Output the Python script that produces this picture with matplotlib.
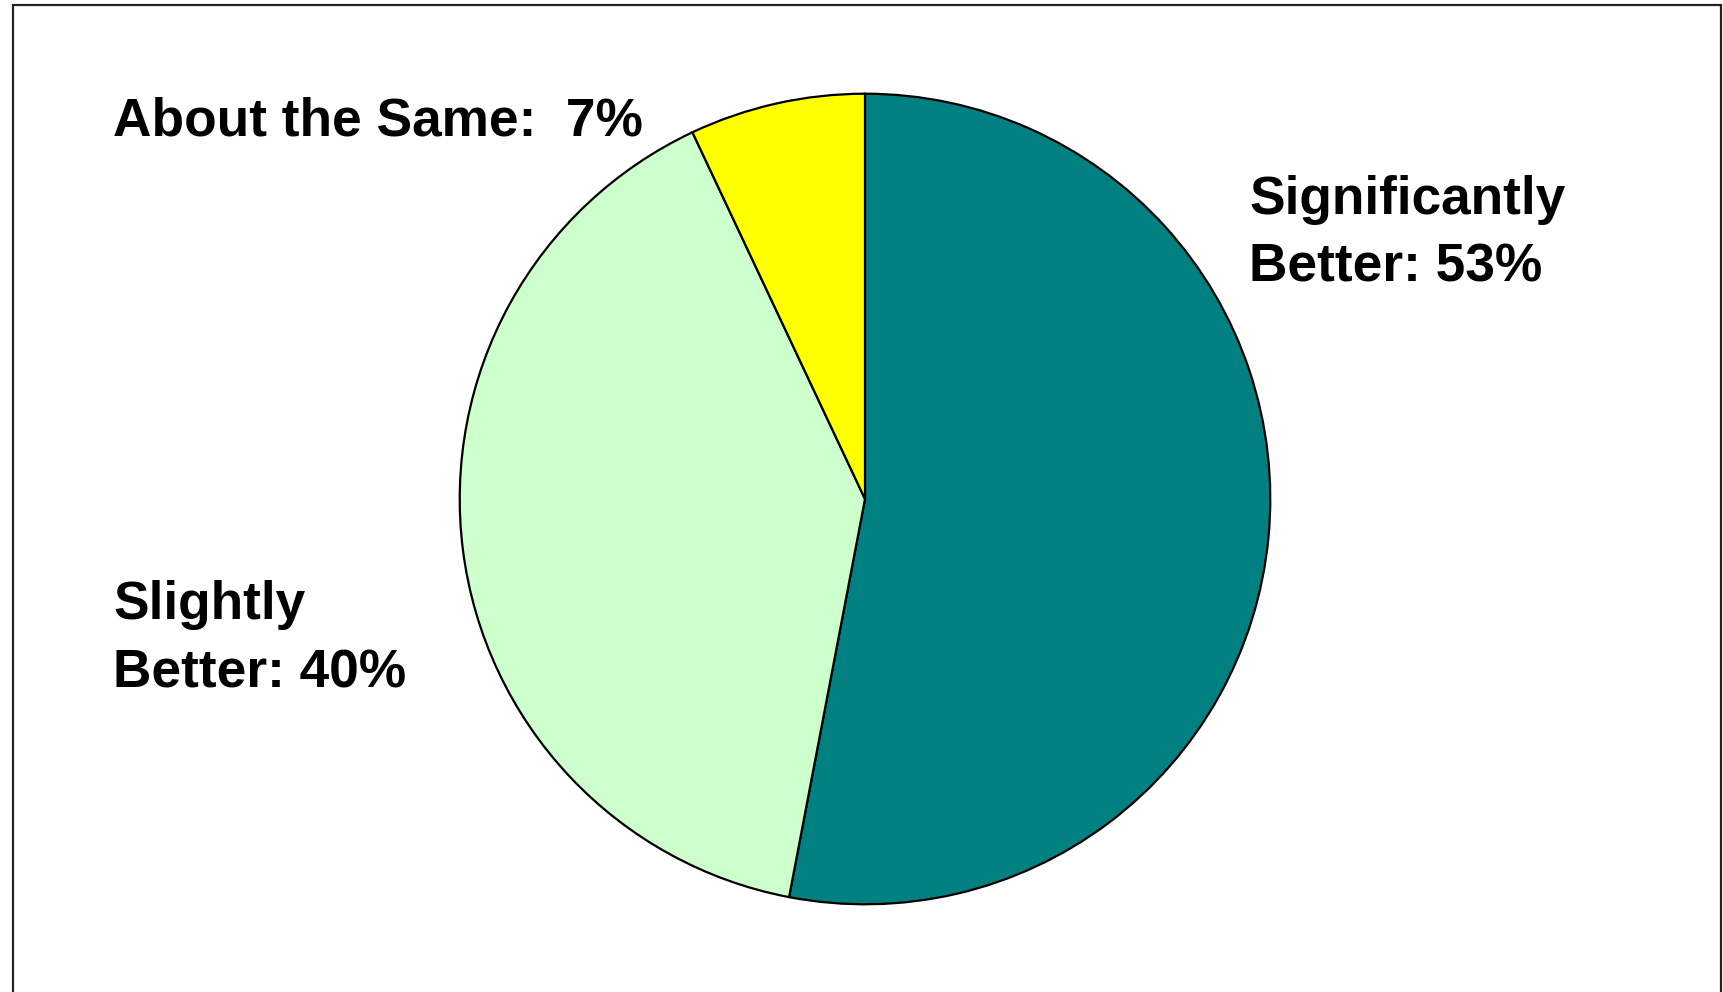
import matplotlib.pyplot as plt
from matplotlib.patches import Rectangle

# data
categories = ["Significantly Better", "Slightly Better", "About the Same"]
shares = [53, 40, 7]
slice_colors = ["#008080", "#CCFFCC", "#FFFF00"]
label_texts = ["Significantly\nBetter: 53%", "Slightly\nBetter: 40%", "About the Same:  7%"]

W, H = 1723, 992
fig = plt.figure(figsize=(W / 100, H / 100), dpi=100)
fig.patch.set_facecolor("white")

# pie area in pixels: centre (865, 499), radius ~406
cx, cy, r = 865, 499, 406.5
ax = fig.add_axes([(cx - r) / W, (H - cy - r) / H, 2 * r / W, 2 * r / H])
ax.pie(shares, colors=slice_colors, startangle=90, counterclock=False,
       wedgeprops=dict(edgecolor="black", linewidth=1.6))
ax.set_xlim(-1.003, 1.003)
ax.set_ylim(-1.003, 1.003)
ax.set_aspect("equal")
ax.axis("off")

# labels (pixel positions of left edge / last-line baseline)
label_pos = [(1249, 282), (113, 687), (113, 136)]
for txt, (px, py) in zip(label_texts, label_pos):
    fig.text(px / W, 1 - py / H, txt, fontsize=38.3, fontweight="bold",
             family="Liberation Sans", ha="left", va="baseline",
             linespacing=1.46, color="black")

# outer frame, open at the bottom edge
fig.patches.append(Rectangle((12.5 / W, -0.05), (1720.5 - 12.5) / W, 1.05 - 4.5 / H,
                             transform=fig.transFigure, fill=False,
                             edgecolor="#222222", linewidth=1.6))

plt.savefig("out.png", dpi=100)
plt.close()
